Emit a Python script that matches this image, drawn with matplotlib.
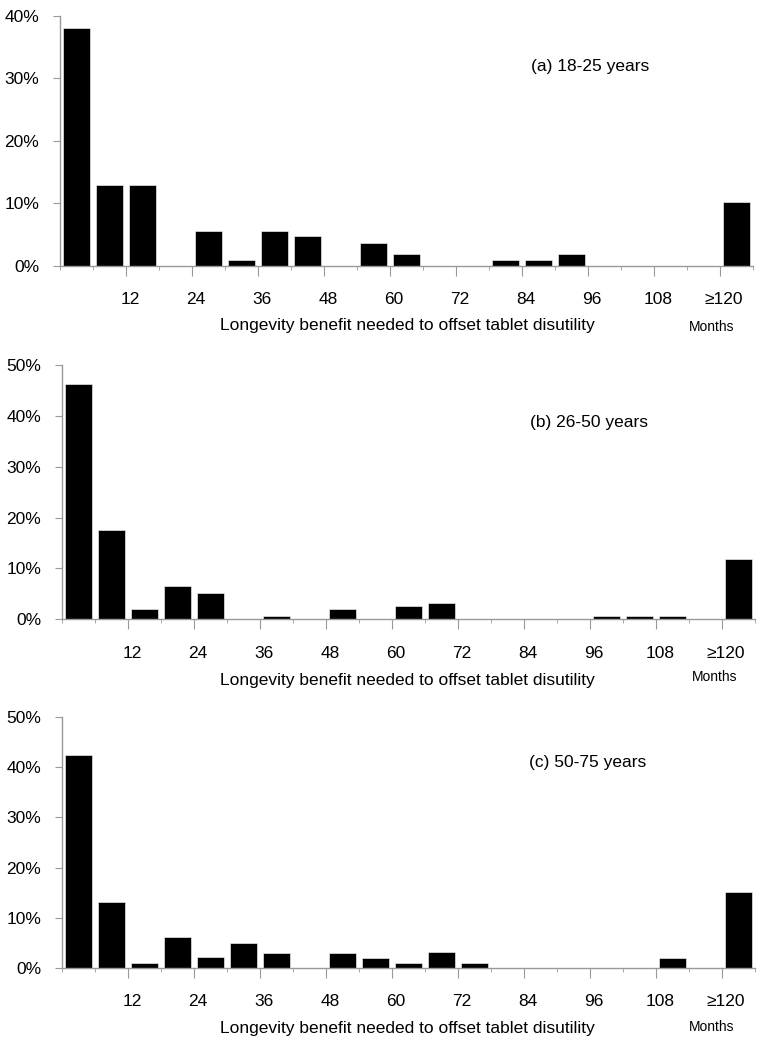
import matplotlib
matplotlib.use('Agg')
import matplotlib.pyplot as plt
import matplotlib.transforms as mtransforms
import numpy as np

plt.rcParams['font.family'] = ['Liberation Sans', 'DejaVu Sans']

# share of respondents per 6-month bin (0-6, 6-12, ..., 114-120, >=120), in %
share_18_25 = [38.0, 12.9, 12.9, 0, 5.6, 0.9, 5.6, 4.7, 0, 3.7, 1.9,
               0, 0, 0.9, 0.9, 1.9, 0, 0, 0, 0, 10.2]
share_26_50 = [46.2, 17.6, 2.0, 6.5, 5.2, 0, 0.7, 0, 2.0, 0, 2.6,
               3.3, 0, 0, 0, 0, 0.7, 0.7, 0.7, 0, 11.8]
share_50_75 = [42.4, 13.1, 1.0, 6.1, 2.1, 5.0, 3.0, 0, 3.0, 2.0, 1.0,
               3.1, 1.0, 0, 0, 0, 0, 0, 2.0, 0, 15.2]

panel_titles = ['(a) 18-25 years', '(b) 26-50 years', '(c) 50-75 years']
y_max = [40, 50, 50]
tick_labels = ['12', '24', '36', '48', '60', '72', '84', '96', '108', '\u2265120']
xlabel = 'Longevity benefit needed to offset tablet disutility'

W, H = 765, 1049
fig = plt.figure(figsize=(W / 100, H / 100), dpi=100)

# axes boxes in pixels: left, top, right, bottom
boxes = [(60, 16, 753, 265.7), (62, 365, 755, 619.3), (62, 717.3, 755, 967.7)]
title_pos = [(590, 67), (589, 422), (588, 763)]
xlabel_y = [326, 681, 1028]
months_pos = [(712, 327), (715, 677), (712, 1027)]

fs = 12.5
grey = '#999999'
for k, data in enumerate([share_18_25, share_26_50, share_50_75]):
    l, t, r, b = boxes[k]
    ax = fig.add_axes([l / W, 1 - b / H, (r - l) / W, (b - t) / H])
    n = len(data)
    ax.bar(np.arange(n) + 0.5, data, width=0.82, color='black', edgecolor='white', linewidth=0.4)
    ax.set_xlim(0, n)
    ax.set_ylim(0, y_max[k])
    ax.set_yticks(np.arange(0, y_max[k] + 1, 10))
    ax.set_yticklabels([f'{v}%' for v in range(0, y_max[k] + 1, 10)], fontsize=fs)
    ax.set_xticks(np.arange(2, n + 1, 2))
    ax.set_xticklabels(tick_labels, fontsize=fs)
    ax.set_xticks(np.arange(0, n + 1, 1), minor=True)
    for s in ['top', 'right']:
        ax.spines[s].set_visible(False)
    for s in ['left', 'bottom']:
        ax.spines[s].set_color(grey)
        ax.spines[s].set_linewidth(1.0)
    ax.tick_params(axis='x', which='major', length=7, color=grey, pad=12)
    ax.tick_params(axis='x', which='minor', length=3, color=grey)
    ax.tick_params(axis='y', length=5, color=grey, pad=10)
    # labels sit a little right of their tick
    shift = mtransforms.ScaledTranslation(4 / 100, 0, fig.dpi_scale_trans)
    for lab in ax.get_xticklabels():
        lab.set_transform(lab.get_transform() + shift)

    fig.text(title_pos[k][0] / W, 1 - title_pos[k][1] / H, panel_titles[k],
             ha='center', va='center', fontsize=fs)
    fig.text(407 / W, 1 - xlabel_y[k] / H, xlabel, ha='center', va='center', fontsize=fs)
    fig.text(months_pos[k][0] / W, 1 - months_pos[k][1] / H, 'Months',
             ha='center', va='center', fontsize=10)

fig.savefig('out.png', dpi=100)
